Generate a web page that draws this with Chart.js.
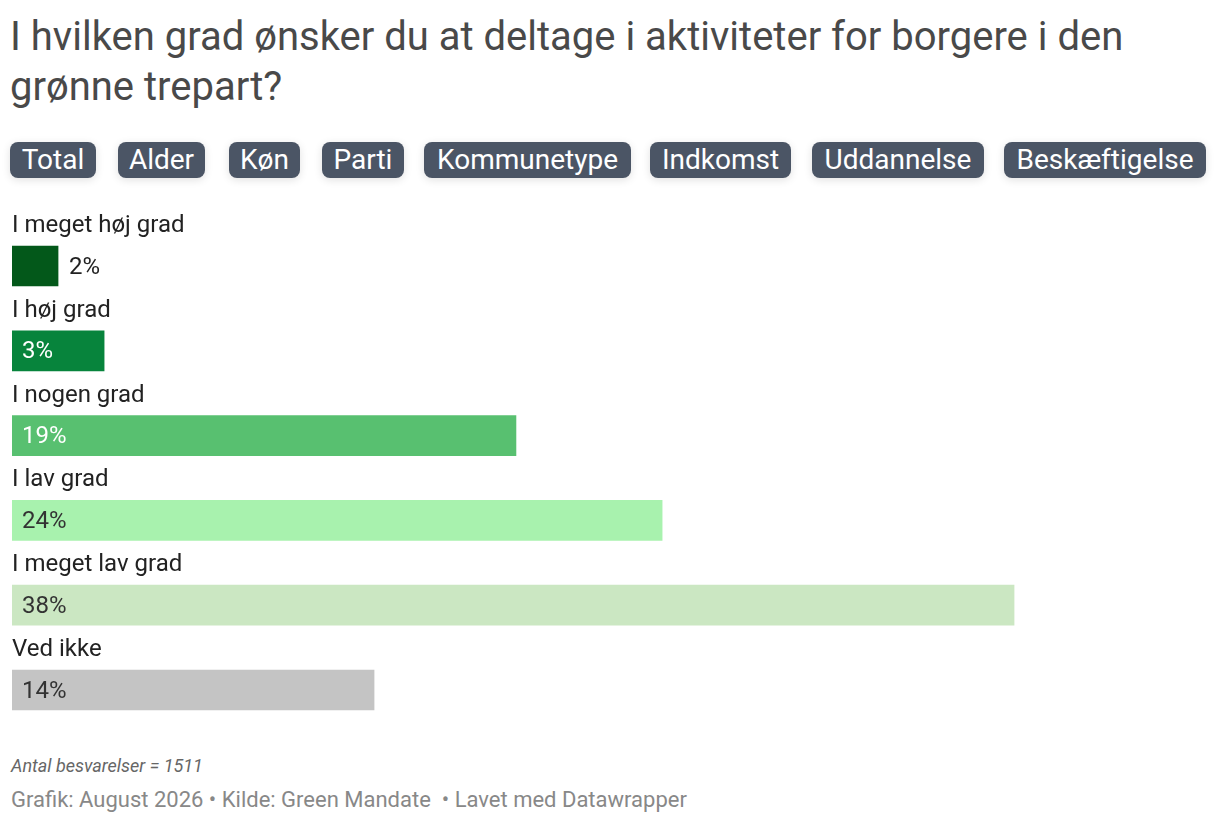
<!DOCTYPE html>
<html>
<head>
<meta charset="utf-8">
<script src="https://cdn.jsdelivr.net/npm/chart.js@4"></script>
<style>
  html, body { margin: 0; padding: 0; background: #fff; }
  body { width: 1220px; height: 826px; position: relative; font-family: Roboto, "Noto Sans", sans-serif; overflow: hidden; }
  #title { position: absolute; left: 10px; top: 12px; width: 1200px; font-size: 40px; line-height: 50px; color: #494949; font-weight: 400; margin: 0; }
  .btn { position: absolute; top: 142px; height: 36px; line-height: 36px; background: #4b5565; color: #fff; font-size: 28px; border-radius: 8px; text-align: center; box-shadow: 0 2px 8px rgba(0,0,0,0.12); white-space: nowrap; }
  #chartwrap { position: absolute; left: 0; top: 200px; width: 1220px; height: 540px; }
  #note { position: absolute; left: 11px; top: 755px; font-size: 18px; font-style: italic; color: #666; }
  #source { position: absolute; left: 11px; top: 787px; font-size: 22px; color: #888; }
</style>
</head>
<body>
<h1 id="title">I hvilken grad ønsker du at deltage i aktiviteter for borgere i den grønne trepart?</h1>
<div id="buttons"></div>
<div id="chartwrap"><canvas id="c"></canvas></div>
<div id="note">Antal besvarelser = 1511</div>
<div id="source">Grafik: August 2026 • Kilde: Green Mandate &nbsp;• Lavet med Datawrapper</div>
<script>
const tabs = ["Total", "Alder", "Køn", "Parti", "Kommunetype", "Indkomst", "Uddannelse", "Beskæftigelse"];
const categories = ["I meget høj grad", "I høj grad", "I nogen grad", "I lav grad", "I meget lav grad", "Ved ikke"];
const values = [1.73, 3.46, 18.93, 24.42, 37.64, 13.6];
const barColors = ["#03581a", "#07843c", "#58c070", "#a8f2ae", "#cbe7c2", "#c4c4c4"];
const labelColors = ["#222222", "#ffffff", "#ffffff", "#333333", "#333333", "#333333"];

// tab buttons
const tabLeft = [10, 118, 229, 322, 424, 650, 812, 1004];
const tabRight = [96, 205, 300, 404, 631, 791, 984, 1206];
const bw = document.getElementById('buttons');
tabs.forEach((t, i) => {
  const d = document.createElement('div');
  d.className = 'btn';
  d.textContent = t;
  d.style.left = tabLeft[i] + 'px';
  d.style.width = (tabRight[i] - tabLeft[i]) + 'px';
  bw.appendChild(d);
});

const labelPlugin = {
  id: 'rowLabels',
  afterDatasetsDraw(chart) {
    const ctx = chart.ctx;
    const meta = chart.getDatasetMeta(0);
    ctx.save();
    ctx.textBaseline = 'middle';
    ctx.textAlign = 'left';
    ctx.font = '24px Roboto, "Noto Sans", sans-serif';
    meta.data.forEach((bar, i) => {
      const left = chart.scales.x.getPixelForValue(0);
      ctx.fillStyle = '#222222';
      ctx.fillText(categories[i], 12, bar.y - 40);
      const txt = Math.round(values[i]) + '%';
      const w = bar.x - left;
      if (w > 60) {
        ctx.fillStyle = labelColors[i];
        ctx.fillText(txt, left + 10, bar.y + 1.5);
      } else {
        ctx.fillStyle = '#222222';
        ctx.fillText(txt, bar.x + 11, bar.y + 1.5);
      }
    });
    ctx.restore();
  }
};

new Chart(document.getElementById('c'), {
  type: 'bar',
  data: {
    labels: categories,
    datasets: [{
      data: values,
      backgroundColor: barColors,
      borderWidth: 0,
      barThickness: 40
    }]
  },
  options: {
    indexAxis: 'y',
    responsive: true,
    maintainAspectRatio: false,
    animation: false,
    layout: { padding: { left: 12, right: 10, top: 23.6, bottom: 7.6 } },
    plugins: { legend: { display: false }, tooltip: { enabled: false } },
    scales: {
      x: { display: false, min: 0, max: 45 },
      y: { display: false, grid: { display: false } }
    }
  },
  plugins: [labelPlugin]
});
</script>
</body>
</html>
